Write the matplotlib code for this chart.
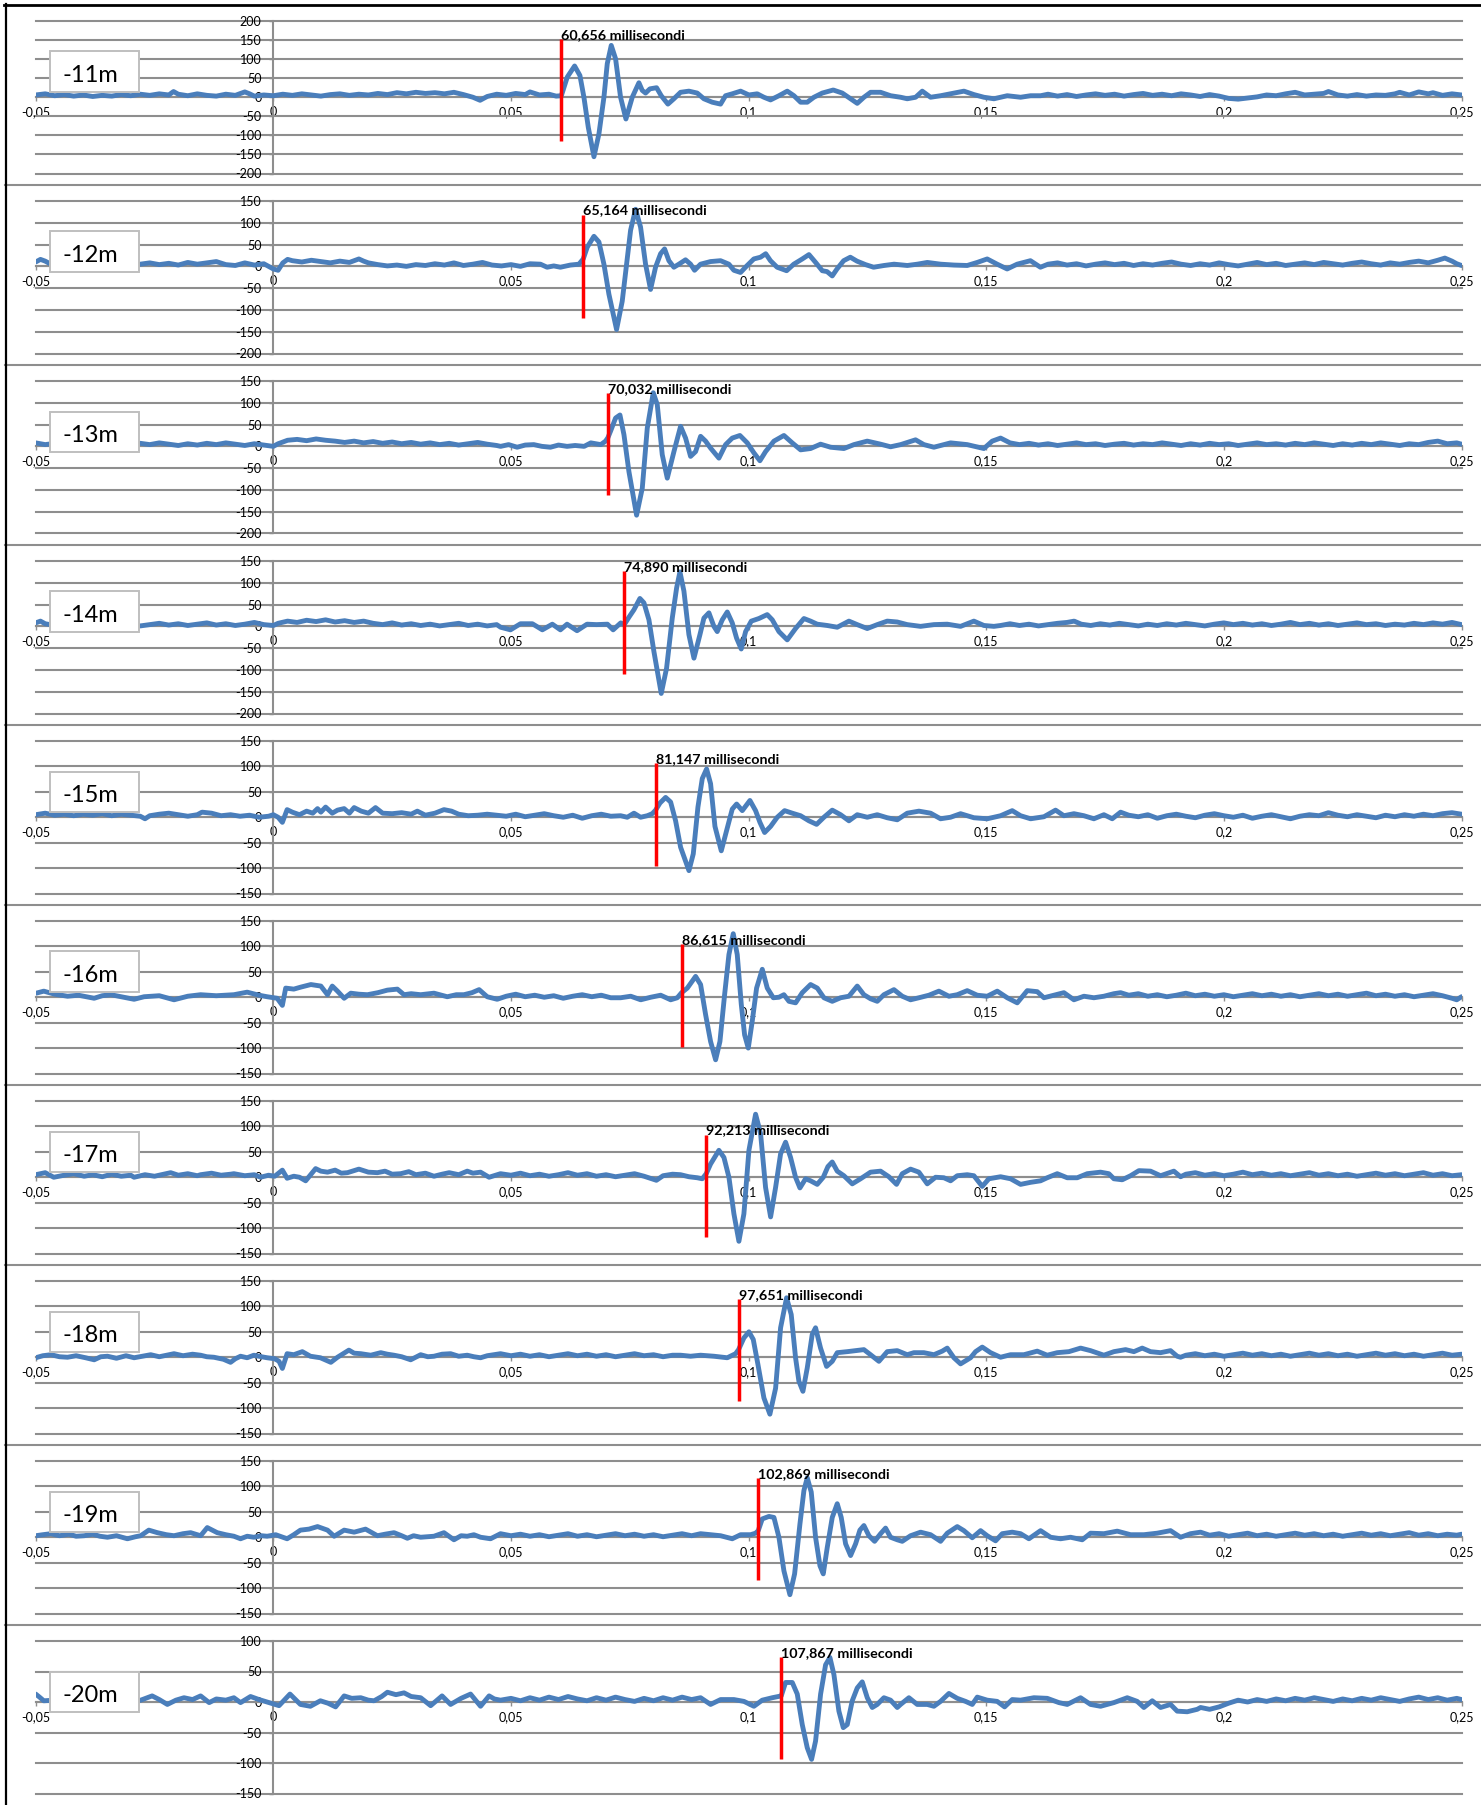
import numpy as np
import matplotlib
matplotlib.use("Agg")
import matplotlib.pyplot as plt
from matplotlib.patches import Rectangle
from matplotlib.lines import Line2D

plt.rcParams['font.family'] = ['Lato', 'DejaVu Sans']

# ---------------- data ----------------
depth_labels = ["-11m", "-12m", "-13m", "-14m", "-15m", "-16m", "-17m", "-18m", "-19m", "-20m"]
arrival_labels = ["60,656 millisecondi", "65,164 millisecondi", "70,032 millisecondi",
                  "74,890 millisecondi", "81,147 millisecondi", "86,615 millisecondi",
                  "92,213 millisecondi", "97,651 millisecondi", "102,869 millisecondi",
                  "107,867 millisecondi"]
y_ranges = [(-200, 200), (-200, 150), (-200, 150), (-200, 150), (-150, 150),
            (-150, 150), (-150, 150), (-150, 150), (-150, 150), (-150, 100)]
# red marker position (ms) and vertical extent
red_t = [60.59, 65.22, 70.40, 73.84, 80.43, 85.90, 91.10, 97.89, 102.04, 106.87]
red_top = [153, 119, 123, 127, 107, 104, 84, 114, 117, 74]
red_bot = [-116, -118, -112, -109, -95, -97, -117, -87, -84, -94]

x_ticks = [-0.05, 0, 0.05, 0.1, 0.15, 0.2, 0.25]
x_tick_labels = ["-0,05", "0", "0,05", "0,1", "0,15", "0,2", "0,25"]

# traces: (time in ms, amplitude)
trace_11m = [
    (-50, 6), (-48, 9), (-46, 4), (-44, 7), (-42, 3), (-40, 6), (-38, 2), (-36, 5), (-34, 3), (-32, 7),
    (-30, 4), (-28, 8), (-26, 5), (-24, 9), (-22, 6), (-21, 15), (-20, 8), (-18, 4), (-16, 9), (-14, 5),
    (-12, 3), (-10, 8), (-8, 5), (-6, 14), (-5, 9), (-4, 3), (-2, 6), (0, 4), (2, 8), (4, 5), (6, 9),
    (8, 6), (10, 3), (12, 7), (14, 9), (16, 5), (18, 8), (20, 6), (22, 10), (24, 7), (26, 12), (28, 9),
    (30, 13), (32, 10), (34, 12), (36, 9), (38, 13), (40, 7), (42, 0), (43.5, -8), (45, 2), (47, 8),
    (49, 5), (51, 10), (53, 7), (54, 14), (56, 6), (58, 8), (59.5, 3),
    (60.6, 4), (61.85, 53), (63.39, 82), (64.51, 57), (65.35, 0), (66.27, -79), (67.46, -156),
    (68.51, -96), (69.56, 0), (70.26, 88), (71.10, 136), (72.01, 101), (73.06, 0), (74.19, -57),
    (75.52, 0), (76.92, 38), (77.62, 18), (78.32, 11), (79.23, 22), (80.64, 25), (81.62, 4),
    (83.02, -18), (84.28, -4), (85.68, 13), (87.44, 16), (89.19, 11), (90.59, -4), (92.35, -13),
    (94.10, -18), (95.15, 4), (96.55, 9), (98.32, 16), (100.07, 6), (101.82, 9), (103.22, 0),
    (104.62, -7), (106.38, 4), (108.13, 16), (109.54, 4), (110.94, -13), (112.34, -13), (113.74, 0),
    (115.50, 11), (117.81, 19), (119.71, 11), (121.46, -4), (122.86, -16), (124.27, 0), (125.67, 13),
    (127.77, 13), (129.88, 4), (131.98, 0), (133.38, -4), (135.14, 0), (136.54, 16), (138.29, 0),
    (140.40, 4), (143.20, 11), (145.31, 16), (147.41, 7), (149.51, 0), (151.62, -4), (154.42, 4),
    (157.23, 0), (159.33, 4), (161.44, 4),
    (163, 8), (165, 3), (167, 7), (169, 2), (171, 6), (173, 9), (175, 5), (177, 8), (179, 3), (181, 7),
    (183, 10), (185, 5), (187, 8), (189, 4), (191, 9), (193, 6), (195, 2), (197, 7), (199, 3), (201, -3),
    (203, -5), (205, -2), (207, 1), (209, 6), (211, 4), (213, 9), (215, 13), (217, 6), (219, 8),
    (221, 10), (222, 15), (224, 6), (226, 3), (228, 7), (230, 3), (232, 6), (234, 5), (236, 9),
    (237, 13), (239, 6), (241, 14), (243, 9), (244, 12), (246, 5), (248, 9), (250, 6)]

trace_12m = [
    (-50, 10), (-49, 16), (-48, 12), (-47, 6), (-45, 3), (-43, 7), (-41, 4), (-39, 8), (-37, 5), (-35, 9),
    (-33, 4), (-31, 7), (-29, 3), (-28, 5), (-26, 8), (-24, 4), (-22, 7), (-20, 3), (-18, 9), (-16, 5),
    (-14, 8), (-12, 11), (-10, 4), (-8, 2), (-6, 8), (-4, 3), (-2, 6), (0, -6), (1, -9), (2, 8), (3, 16),
    (4, 13), (6, 10), (8, 14), (10, 11), (12, 8), (14, 12), (16, 9), (18, 17), (19, 12), (20, 8), (22, 4),
    (24, 1), (26, 3), (28, 0), (30, 4), (32, 2), (34, 6), (36, 3), (38, 8), (40, 2), (42, 5), (44, 9),
    (46, 3), (48, 1), (50, 4), (52, 0), (54, 6),
    (56.2, 5), (57.6, -2), (59.0, 1), (60.4, -2), (62.5, 3), (64.3, 5),
    (65.21, 17), (66.05, 44), (67.46, 69), (68.51, 56), (69.56, 5), (70.61, -64), (72.22, -145),
    (73.41, -80), (74.33, 5), (75.17, 83), (76.22, 131), (77.27, 90), (78.32, 5), (79.37, -53),
    (80.42, -2), (81.48, 29), (82.32, 40), (83.23, 13), (84.28, -2), (85.33, 5), (86.73, 15),
    (87.79, 5), (88.63, -9), (89.89, 5), (91.99, 11), (94.10, 13), (95.85, 5), (96.90, -9),
    (98.30, -14), (99.70, 2), (101.1, 17), (102.5, 21), (103.6, 29), (104.6, 13), (106.0, -2),
    (108.0, -10), (109.5, 5), (111.3, 17), (112.7, 27), (114.1, 9), (115.5, -10), (116.5, -12),
    (117.6, -22), (118.6, -6), (120.0, 13), (121.4, 21), (122.8, 12), (124.6, 4), (126.3, -2),
    (128.5, 2), (130.6, 5), (133.4, 2), (135.5, 5), (137.6, 9), (140.4, 5), (143.2, 3), (146.0, 2),
    (148.1, 9), (150.2, 17), (152.3, 5), (154.4, -6), (156.5, 5), (159.3, 13), (161.4, -2),
    (163, 5), (165, 8), (167, 3), (169, 6), (171, 1), (173, 5), (175, 8), (177, 4), (179, 7), (181, 2),
    (183, 6), (185, 3), (187, 7), (189, 10), (191, 5), (193, 2), (195, 6), (197, 3), (199, 8), (201, 4),
    (203, 1), (205, 5), (207, 9), (209, 4), (211, 7), (213, 2), (215, 5), (217, 8), (219, 4), (221, 9),
    (223, 6), (225, 3), (227, 7), (229, 10), (231, 6), (233, 3), (235, 8), (237, 5), (239, 9), (241, 12),
    (243, 8), (245, 14), (246.5, 19), (248, 12), (249, 6), (250, 2)]

trace_13m = [
    (-50, 8), (-48, 4), (-46, 7), (-44, 3), (-42, 6), (-40, 2), (-38, 5), (-36, 8), (-34, 4), (-32, 6),
    (-30, 3), (-28, 7), (-26, 4), (-24, 8), (-22, 5), (-20, 2), (-18, 6), (-16, 3), (-14, 7), (-12, 4),
    (-10, 8), (-8, 5), (-6, 2), (-4, 6), (-2, 3), (0, 0), (1, 6), (3, 14), (5, 16), (7, 13), (9, 17),
    (11, 14), (13, 12), (15, 9), (17, 12), (19, 8), (21, 11), (23, 7), (25, 10), (27, 6), (29, 9),
    (31, 5), (33, 8), (35, 4), (37, 7), (39, 3), (41, 6), (43, 9), (45, 5), (47, 2),
    (47.82, 0), (49.5, 4), (51.3, -2), (53, 3), (54.8, 4), (56.5, 0), (58.3, -2), (60, 3), (61.8, 0),
    (63.5, 2), (65.4, 0), (66.8, 8), (68.9, 4), (69.9, 12),
    (70.40, 20), (70.96, 35), (72.01, 65), (72.93, 72), (73.77, 27), (74.82, -58), (76.43, -158),
    (77.63, -96), (78.68, 42), (79.94, 123), (80.78, 96), (81.83, -19), (82.89, -73), (84.29, -12),
    (85.69, 46), (86.74, 19), (87.79, -23), (88.85, -12), (89.90, 23), (90.95, 12), (92.00, -4),
    (93.75, -27), (95.16, 4), (96.56, 19), (98.17, 25), (99.72, 8), (101.12, -15), (102.38, -33),
    (103.57, -12), (105.33, 12), (107.43, 25), (109.18, 8), (110.94, -8), (113.04, -5), (115.14, 5),
    (117.25, -2), (120.05, -5), (122.16, 4), (124.96, 12), (127.77, 5), (129.87, -1), (131.98, 4),
    (135.13, 15), (136.89, 4), (138.99, -2), (142.50, 8), (146.00, 4), (149.51, -5), (151.26, 12),
    (153.02, 19),
    (155, 8), (157, 4), (159, 7), (161, 3), (163, 6), (165, 2), (167, 5), (169, 8), (171, 4), (173, 6),
    (175, 2), (177, 5), (179, 7), (181, 3), (183, 6), (185, 4), (187, 8), (189, 5), (191, 2), (193, 6),
    (195, 3), (197, 7), (199, 4), (201, 6), (203, 2), (205, 5), (207, 8), (209, 4), (211, 6), (213, 3),
    (215, 7), (217, 4), (219, 8), (221, 5), (223, 2), (225, 6), (227, 3), (229, 7), (231, 4), (233, 8),
    (235, 5), (237, 2), (239, 6), (241, 4), (243, 9), (245, 12), (247, 6), (249, 8), (250, 5)]

trace_14m = [
    (-50, 8), (-49, 12), (-48, 6), (-46, 2), (-44, 5), (-42, 1), (-40, 4), (-38, 7), (-36, 3), (-34, 6),
    (-32, 2), (-30, 5), (-28, 1), (-26, 4), (-24, 7), (-22, 3), (-20, 6), (-18, 2), (-16, 5), (-14, 8),
    (-12, 3), (-10, 6), (-8, 2), (-6, 5), (-4, 9), (-2, 4), (0, 2), (1, 7), (3, 12), (5, 9), (7, 14),
    (9, 11), (11, 15), (13, 10), (15, 13), (17, 9), (19, 12), (21, 7), (23, 4), (25, 8), (27, 3),
    (29, 6), (31, 2), (33, 5), (35, 1), (37, 4), (39, 7), (41, 2), (43, 5), (45, 1), (47, 4),
    (47.82, -2), (49.9, -8), (52, 6), (54.5, 6), (56.6, -8), (58.7, 5), (60.4, -8), (61.8, 5),
    (63.9, -10), (66, 5), (68, 4), (70.3, 5), (71.5, -8), (73.1, 8),
    (73.84, 4), (74.82, 21), (75.87, 38), (77.13, 64), (77.98, 54), (79.03, 15), (80.08, -58),
    (81.62, -154), (82.74, -96), (83.94, 19), (84.85, 88), (85.55, 125), (86.39, 81), (87.44, -19),
    (88.50, -73), (89.76, -19), (90.60, 19), (91.65, 31), (92.70, 0), (93.40, -12), (94.46, 15),
    (95.51, 33), (96.56, 8), (97.47, -27), (98.45, -52), (99.37, -12), (100.56, 12), (102.17, 18),
    (103.92, 27), (104.98, 15), (106.38, -12), (108.13, -31), (109.88, -5), (111.64, 18), (113.04, 12),
    (114.44, 5), (116.55, 2), (118.65, -2), (121.11, 12), (122.86, 4), (124.96, -5), (127.07, 4),
    (129.17, 12), (131.27, 10), (133.38, 4), (136.18, 0), (138.99, 4), (141.79, 5), (144.60, 0),
    (147.40, 12), (149.51, 2), (151.61, 0), (153.02, 2),
    (155, 6), (157, 2), (159, 5), (161, 1), (163, 4), (165, 7), (167, 9), (168.5, 12), (170, 5), (172, 2),
    (174, 6), (176, 3), (178, 7), (180, 4), (182, 1), (184, 5), (186, 2), (188, 6), (190, 3), (192, 7),
    (194, 4), (196, 1), (198, 5), (200, 8), (202, 4), (204, 7), (206, 3), (208, 6), (210, 2), (212, 5),
    (214, 9), (216, 4), (218, 7), (220, 3), (222, 6), (224, 2), (226, 5), (228, 8), (230, 4), (232, 6),
    (234, 2), (236, 5), (238, 3), (240, 7), (242, 4), (244, 8), (246, 5), (248, 9), (250, 4)]

trace_15m = [
    (-50, 5), (-48, 8), (-46, 4), (-44, 6), (-42, 3), (-40, 6), (-38, 4), (-36, 7), (-34, 3), (-32, 6),
    (-30, 4), (-28, 2), (-27, -3), (-26, 3), (-24, 6), (-22, 8), (-20, 5), (-18, 2), (-16, 5), (-15, 10),
    (-13, 8), (-11, 3), (-9, 5), (-7, 2), (-5, 4), (-3, 0), (-1, 2), (0, 5), (1, 0), (1.9, -10),
    (2.9, 15), (4, 10), (5.5, 5), (7, 12), (8.3, 8), (9.3, 17), (10, 10), (11, 20), (12.4, 8), (13.5, 14),
    (14.9, 17), (16, 8), (17, 19), (18.5, 12), (20, 8), (21.5, 19), (23, 8), (25, 7), (27, 9), (29, 6),
    (30.3, 12), (32, 4), (34, 8), (35.9, 15), (37.5, 12), (39, 6), (41, 3), (43, 4), (45, 6), (47, 4),
    (49, 2), (51, 6), (53, 1), (55, 4), (57, 7), (59, 3), (61, 0), (63, 4), (65, -2), (67, 3), (69, 6),
    (71, 2),
    (73.07, 3), (74.47, 0), (75.88, 8), (77.28, 0), (78.68, 3), (79.73, 7), (80.43, 14), (81.35, 28),
    (82.54, 39), (83.59, 30), (84.64, -7), (85.69, -59), (87.45, -105), (88.36, -72), (89.34, 20),
    (90.25, 76), (91.16, 95), (92.00, 66), (92.92, -18), (94.25, -66), (95.37, -26), (96.56, 16),
    (97.48, 26), (98.67, 13), (100.28, 33), (101.47, 13), (102.38, -10), (103.37, -30), (104.63, -18),
    (106.03, 0), (107.57, 13), (109.19, 8), (110.94, 3), (112.69, -7), (114.31, -14), (115.85, 0),
    (117.60, 14), (119.36, 5), (121.11, -7), (122.86, 5), (124.97, 0), (127.07, 5), (129.17, -1),
    (131.28, -5), (133.38, 8), (135.84, 12), (138.29, 8), (140.39, -3), (142.49, 0), (144.60, 7),
    (147.41, -1), (150.21, -3), (153.02, 3), (155.47, 13), (157.23, 3), (159.33, -3), (162.14, 1),
    (164.59, 14), (166.34, 3), (168.45, 7), (170.55, 3), (172.65, -3), (174.76, 5), (176.51, -3),
    (178.27, 10),
    (180, 4), (182, 1), (184, 5), (186, -2), (188, 3), (190, 6), (192, 2), (194, -1), (196, 4), (198, 7),
    (200, 3), (202, 0), (204, 4), (206, -2), (208, 2), (210, 5), (212, 1), (214, -3), (216, 2), (218, 5),
    (220, 3), (222, 9), (224, 4), (226, 1), (228, 5), (230, 2), (232, -1), (234, 4), (236, 1), (238, 5),
    (240, 2), (242, 6), (244, 3), (246, 7), (248, 9), (250, 6)]

trace_16m = [
    (-49.9, 8), (-48.3, 12), (-46, 6), (-43.3, 2), (-41, 4), (-37.7, -2), (-36, 3), (-34.2, 5), (-32, 1),
    (-29.3, -4), (-27.2, 1), (-24, 3), (-20.9, -5), (-18, 2), (-15.3, 5), (-12, 3), (-8.3, 5), (-5.5, 10),
    (-3, 4), (-1.3, 1), (0.8, -2), (1.9, -16), (2.6, 18), (4.3, 16), (5.8, 20), (7.9, 25), (10, 22),
    (11.4, 5), (12.4, 22), (13.5, 12), (14.9, -2), (16.3, 8), (18, 6), (19.8, 5), (22, 9), (24, 14),
    (26.1, 16), (27.5, 5), (29, 7), (31, 5), (33.8, 8), (36.6, 1), (38.5, 5), (40.1, 5), (41.8, 9),
    (43.3, 15), (45, 1), (47.1, -4),
    (49, 2), (51, 6), (53, 1), (55, 4), (57, 0), (59, 3), (61, -2), (63, 2), (65, 5), (67, 1), (69, 4),
    (71, -1),
    (73.07, -1), (75.2, 2), (77.3, -5), (79.4, 0), (81.5, 4), (83.6, -5), (85.0, -1),
    (85.90, 9), (87.10, 18), (88.85, 41), (89.90, 25), (90.95, -34), (92.00, -87), (93.06, -123),
    (93.97, -87), (94.95, 5), (95.86, 84), (96.77, 125), (97.61, 84), (98.46, -14), (99.16, -74),
    (99.93, -100), (100.77, -47), (101.68, 18), (102.88, 55), (103.93, 18), (105.19, -1), (106.38, 0),
    (107.43, 5), (108.49, -8), (109.89, -11), (111.29, 9), (113.04, 25), (114.45, 18), (115.85, -1),
    (117.60, -8), (119.36, -1), (121.11, 2), (122.86, 22), (124.26, 5), (125.67, -3), (127.07, -8),
    (128.47, 5), (130.58, 15), (132.33, 2), (134.08, -5), (135.84, -1), (137.94, 4), (140.04, 12),
    (142.15, 2), (143.90, 5), (146.00, 13), (148.11, 4), (150.21, 2), (152.32, 12), (154.42, -1),
    (156.52, -11), (158.63, 13), (160.73, 11), (162.14, -1), (164.24, 4), (166.34, 9), (168.45, -5),
    (170.55, 2), (172.65, -1), (174.76, 2), (176.86, 7), (178.27, 9),
    (180, 4), (182, 7), (184, 2), (186, 5), (188, 1), (190, 4), (192, 8), (194, 3), (196, 6), (198, 2),
    (200, 5), (202, 1), (204, 4), (206, 7), (208, 3), (210, 6), (212, 2), (214, 5), (216, 1), (218, 4),
    (220, 7), (222, 3), (224, 6), (226, 2), (228, 5), (230, 8), (232, 3), (234, 6), (236, 2), (238, 5),
    (240, 1), (242, 4), (244, 7), (246, 3), (248, -2), (249, -5), (250, 1)]

trace_17m = [
    (-50, 5), (-48, 9), (-46.2, 0), (-44, 4), (-42, 7), (-39.8, 2), (-38, 5), (-36, 1), (-34, 6), (-32, 2),
    (-30, 4), (-29.3, 0), (-27, 5), (-25, 2), (-23, 6), (-21.6, 9), (-20, 4), (-18, 7), (-16, 3),
    (-15.3, 5), (-13, 8), (-11, 4), (-9, 6), (-8.3, 7), (-6, 3), (-4, 5), (-2.7, 0), (-1, 4), (0.3, 2),
    (1.9, 14), (2.9, -2), (4.3, 2), (5.5, 0), (6.8, -7), (8.9, 17), (10, 12), (11.4, 10), (13, 14),
    (14.3, 8), (15.6, 9), (18, 16), (20, 10), (21.9, 9), (23.5, 12), (25, 6), (26.8, 7), (28.5, 11),
    (30, 5), (32, 8), (33.8, 2), (35.5, 6), (37, 9), (39, 5), (40.8, 12), (42, 8), (43.6, 10), (45.4, 0),
    (47.8, 7),
    (50, 4), (52, 8), (54, 3), (56, 6), (58, 2), (60, 5), (62, 9), (64, 4), (66, 7), (68, 2), (70, 5),
    (72, 1), (74, 4), (76, 7), (78, 2), (80, -4), (80.6, -6), (82, 3), (84, 6),
    (85.69, 5), (87.44, 1), (89.20, -1), (90.25, -3), (91.09, 7), (92.00, 26), (93.75, 53), (94.81, 39),
    (95.86, 0), (96.91, -72), (97.96, -126), (99.01, -72), (100.07, 53), (101.47, 124), (102.52, 86),
    (103.57, -20), (104.63, -78), (105.68, -20), (106.73, 46), (107.78, 69), (108.83, 39), (109.88, 0),
    (110.80, -21), (111.99, -3), (113.04, -7), (114.44, -14), (115.71, 0), (116.69, 21), (117.60, 30),
    (118.65, 12), (120.05, 3), (121.81, -13), (123.56, -3), (125.66, 10), (127.77, 12), (129.52, 1),
    (131.13, -14), (132.33, 7), (134.08, 16), (135.83, 10), (137.59, -13), (139.34, 0), (141.09, -1),
    (142.50, -7), (143.90, 3), (146.00, 5), (147.40, 3), (149.16, -18), (150.56, -3), (153.02, 1),
    (155.12, -3), (157.22, -14), (159.33, -10), (161.43, -7), (162.83, -1), (164.94, 7), (167.04, -1),
    (169.14, -1), (171.25, 7), (174.05, 10), (175.80, 7), (176.86, -3), (178.61, -5), (180.37, 3),
    (182.12, 13), (184.57, 12), (186.68, 3), (189.48, 12), (190.89, 1),
    (192, 6), (194, 9), (196, 4), (198, 7), (200, 3), (202, 6), (204, 10), (206, 5), (208, 8), (210, 4),
    (212, 7), (214, 3), (216, 6), (218, 9), (220, 4), (222, 7), (224, 3), (226, 6), (228, 2), (230, 5),
    (232, 8), (234, 4), (236, 7), (238, 3), (240, 6), (242, 9), (244, 4), (246, 7), (248, 3), (250, 5)]

trace_18m = [
    (-50, -1), (-48.5, 3), (-46.8, 5), (-45, 1), (-43.3, 0), (-41.5, 3), (-39.5, -1), (-37.7, -5),
    (-36.3, 1), (-34.9, 2), (-33, -2), (-31, 3), (-29.3, -1), (-27.5, 2), (-25.8, 5), (-24, 1),
    (-22.5, 4), (-20.9, 7), (-19, 3), (-17, 6), (-15.3, 4), (-14, 1), (-12.5, 0), (-10.5, -4),
    (-9.0, -10), (-8, -3), (-6.9, 2), (-5.5, -1), (-4.1, 4), (-2.5, 1), (-1.3, -1), (0.3, -3),
    (1.2, -8), (1.9, -22), (2.9, 7), (4.3, 5), (6.1, 11), (7.8, 2), (9.9, -1), (12.1, -10), (13.5, 0),
    (15.9, 14), (17, 8), (18.4, 7), (20.5, 4), (22.6, 9), (24, 6), (25.4, 4), (27, 1), (28.9, -5),
    (31.0, 5), (32.5, 1), (33.8, 2), (35.5, 6), (37.3, 7), (39, 2), (40.8, 4), (42.2, 1), (43.6, -1),
    (45, 3), (46.4, 5), (47.8, 7),
    (50, 3), (52, 6), (54, 2), (56, 5), (58, 1), (60, 4), (62, 7), (64, 3), (66, 6), (68, 2), (70, 5),
    (72, 1), (74, 4), (76, 7), (78, 3), (80, 5), (82, 1), (84, 4),
    (85.69, 4), (87.79, 2), (89.90, 4), (92.70, 2), (95.51, -1), (97.26, 7), (97.89, 15), (99.01, 38),
    (100.07, 50), (100.98, 35), (101.96, -14), (103.22, -80), (104.48, -112), (105.68, -61),
    (106.73, 58), (107.99, 117), (108.97, 84), (109.88, -1), (110.58, -47), (111.43, -67),
    (112.34, -21), (113.39, 45), (114.09, 58), (115.14, 18), (116.41, -18), (117.60, -8), (118.65, 9),
    (120.76, 11), (122.51, 13), (124.26, 15), (125.66, 5), (127.42, -8), (129.17, 11), (131.27, 13),
    (133.38, 5), (134.78, 9), (136.88, 9), (138.99, 5), (140.74, 12), (141.79, 18), (143.20, -1),
    (144.60, -13), (146.70, -1), (147.75, 11), (149.16, 20), (150.91, 9), (153.01, 0), (155.12, 5),
    (157.92, 5), (160.73, 12), (162.83, 4), (164.94, 9), (167.39, 11), (169.85, 18), (171.95, 13),
    (174.75, 4), (176.86, 11), (179.32, 15), (181.07, 11), (182.82, 18), (184.57, 11), (186.68, 9),
    (188.78, 13), (190.18, 2), (190.89, 0),
    (192, 4), (194, 7), (196, 3), (198, 6), (200, 2), (202, 5), (204, 8), (206, 4), (208, 7), (210, 3),
    (212, 6), (214, 2), (216, 5), (218, 8), (220, 4), (222, 7), (224, 3), (226, 6), (228, 2), (230, 5),
    (232, 8), (234, 4), (236, 7), (238, 3), (240, 6), (242, 2), (244, 5), (246, 8), (248, 4), (250, 6)]

trace_19m = [
    (-50, 3), (-48.5, 5), (-46.8, 7), (-45, 3), (-43, 6), (-41.5, 2), (-39.8, 3), (-38, 6), (-36.5, 2),
    (-34.9, 0), (-33, 3), (-30.7, -3), (-29, 1), (-27.9, 3), (-26.2, 14), (-24.4, 9), (-22.5, 5),
    (-20.9, 3), (-19, 7), (-17.4, 9), (-15.3, 3), (-13.9, 19), (-11.8, 9), (-10, 5), (-8.3, 2),
    (-6.9, -3), (-5.5, 2), (-4.1, 0), (-2.5, 3), (-1.3, 2), (0.5, 5), (2.9, -3), (4.3, 5), (5.7, 14),
    (7.5, 16), (9.3, 21), (11.4, 14), (12.8, 2), (14.9, 14), (17.0, 10), (19.4, 16), (21.9, 3),
    (23.5, 6), (25.4, 9), (27, 3), (28.2, -2), (29.5, 3), (31.0, 0), (33.8, 2), (35.9, 9), (38.0, -5),
    (39.5, 3), (40.8, 2), (42.2, 5), (43.6, 0), (45.7, -3), (47.8, 7),
    (50, 3), (52, 6), (54, 2), (56, 5), (58, 1), (60, 4), (62, 7), (64, 2), (66, 5), (68, 1), (70, 4),
    (72, 7), (74, 3), (76, 6), (78, 2), (80, 5), (82, 1), (84, 4), (86, 7), (88, 3),
    (89.90, 7), (92.00, 5), (94.11, 3), (96.56, -3), (98.32, 5), (100.42, 5), (101.47, 8), (102.03, 13),
    (102.87, 36), (104.28, 41), (105.33, 39), (106.38, 0), (107.43, -66), (108.69, -113),
    (109.68, -72), (110.80, 26), (111.64, 92), (112.34, 117), (113.18, 89), (114.09, 0),
    (115.01, -56), (115.71, -72), (116.55, -20), (117.60, 39), (118.65, 66), (119.49, 39),
    (120.41, -13), (121.46, -36), (122.51, -13), (123.42, 14), (124.26, 23), (125.32, 3), (126.51, -8),
    (127.77, 7), (128.82, 18), (129.87, 0), (131.28, -5), (132.33, -8), (134.08, 3), (136.19, 10),
    (138.29, 5), (140.39, -8), (141.80, 8), (143.90, 21), (145.30, 13), (147.06, -1), (148.81, 13),
    (150.21, 3), (151.97, -7), (153.37, 7), (155.47, 10), (157.22, 7), (158.98, -3), (161.43, 13),
    (163.54, 0), (165.64, -3), (167.74, 0), (170.20, -5), (171.95, 8), (174.76, 7), (177.56, 12),
    (180.37, 5), (183.17, 5), (185.98, 8), (188.78, 13), (190.89, 0), (192.99, 7), (195.10, 10),
    (197, 4), (199, 7), (201, 2), (203, 5), (205, 8), (207, 3), (209, 6), (211, 2), (213, 5), (215, 8),
    (217, 4), (219, 7), (221, 3), (223, 6), (225, 2), (227, 5), (229, 8), (231, 4), (233, 7), (235, 3),
    (237, 6), (239, 9), (241, 4), (243, 7), (245, 3), (247, 6), (249, 4), (250, 6)]

trace_20m = [
    (-50, 13), (-49.2, 8), (-48.3, 2), (-46, 3), (-43, 6), (-40, 2), (-37, 5), (-34, 1), (-31, 4),
    (-29.5, 1), (-27.9, 3), (-25.5, 10), (-24, 4), (-22.3, -4), (-20.5, 3), (-18.8, 7), (-17, 4),
    (-15.3, 10), (-13.5, -1), (-12, 5), (-10, 3), (-8.3, 7), (-6.9, -1), (-4.8, 9), (-3, 4), (-1.3, 0),
    (1.2, -6), (3.5, 13), (5.7, -4), (7.8, -7), (9.9, 2), (11.5, -2), (13.1, -8), (14.9, 10),
    (16.5, 6), (18.4, 7), (20, 3), (21.2, 2), (22.8, 9), (24.0, 16), (25.8, 12), (27.5, 15), (29, 9),
    (31.0, 7), (33.1, -6), (35.5, 10), (37.3, -4), (39.5, 6), (41.5, 13), (43.6, -7), (45.4, 10),
    (46.5, 5), (47.8, 3),
    (50, 6), (52, 2), (54, 7), (56, 3), (58, 8), (60, 4), (62, 9), (64, 5), (66, 2), (68, 7), (70, 3),
    (72, 8), (74, 4), (76, 1), (78, 6), (80, 2), (82, 7), (84, 3), (86, 8), (88, 4),
    (89.90, 7), (92.00, -4), (94.11, 4), (96.91, 4), (99.02, 1), (101.12, -7), (102.87, 3),
    (104.98, 7), (106.87, 10), (107.78, 32), (109.19, 32), (110.24, 13), (111.29, -37), (112.34, -75),
    (113.25, -94), (114.09, -64), (115.15, 13), (116.20, 61), (117.11, 73), (117.95, 45), (119.00, -15),
    (119.92, -42), (120.76, -37), (121.81, 2), (122.86, 23), (123.91, 33), (124.97, 7), (126.02, -9),
    (127.07, -4), (128.47, 7), (129.87, 3), (131.28, -9), (131.98, -4), (133.73, 7), (135.48, -4),
    (137.59, -4), (138.99, -7), (140.39, 1), (142.15, 14), (143.90, 6), (145.65, 1), (147.06, -4),
    (148.11, 8), (150.21, 3), (152.31, 1), (153.86, -8), (155.47, 4), (157.22, 3), (160.03, 7),
    (162.84, 6), (165.29, -1), (167.04, -4), (169.85, 7), (171.95, -4), (174.06, -7), (176.86, -1),
    (179.67, 7), (181.77, 1), (183.17, -9), (184.93, 2), (186.68, -9), (188.78, -4), (190.18, -15),
    (192.29, -16), (194.39, -12), (195.10, -9),
    (197, -12), (199, -8), (201, -2), (203, 3), (205, 0), (207, 4), (209, 1), (211, 5), (213, 2), (215, 6),
    (217, 3), (219, 7), (221, 4), (223, 1), (225, 5), (227, 2), (229, 6), (231, 3), (233, 7), (235, 4),
    (237, 1), (239, 5), (241, 8), (243, 4), (245, 7), (247, 3), (249, 6), (250, 4)]

traces = [trace_11m, trace_12m, trace_13m, trace_14m, trace_15m,
          trace_16m, trace_17m, trace_18m, trace_19m, trace_20m]

# ---------------- styling ----------------
W, H = 1481, 1805
GRID = '#8e8e8e'
BLUE = '#4a7ebb'

fig = plt.figure(figsize=(W / 100, H / 100), dpi=100)
fig.patch.set_facecolor('white')

x_left_px, x_right_px = 35.7, 1461.5
panel_h = 180.0
top0 = 5.0
ax_off, ax_h = 16.0, 152.5


def fx(px):
    return px / W


def fy(py):
    return 1 - py / H


# panel separator lines and outer border
for k in range(1, 10):
    yy = fy(top0 + panel_h * k)
    fig.add_artist(Line2D([fx(5), 1], [yy, yy], color=GRID, lw=1.5, transform=fig.transFigure))
fig.add_artist(Line2D([fx(4), 1], [fy(5), fy(5)], color='black', lw=2.0, transform=fig.transFigure))
fig.add_artist(Line2D([fx(5.5), fx(5.5)], [fy(4), 0], color='black', lw=1.6, transform=fig.transFigure))

for k in range(10):
    ptop = top0 + panel_h * k + ax_off
    ax = fig.add_axes([fx(x_left_px), fy(ptop + ax_h), fx(x_right_px - x_left_px), ax_h / H])
    ax.patch.set_visible(False)
    lo, hi = y_ranges[k]
    ax.set_xlim(-0.05, 0.25)
    ax.set_ylim(lo, hi)

    yt = list(range(lo, hi + 1, 50))
    ax.set_yticks(yt)
    ax.set_yticklabels([str(v) for v in yt])
    ax.set_xticks(x_ticks)
    ax.set_xticklabels(x_tick_labels)

    for s in ['top', 'right']:
        ax.spines[s].set_visible(False)
    ax.spines['left'].set_position(('data', 0))
    ax.spines['bottom'].set_position(('data', 0))
    for s in ['left', 'bottom']:
        ax.spines[s].set_color(GRID)
        ax.spines[s].set_linewidth(1.5)
        ax.spines[s].set_zorder(1.5)

    ax.grid(axis='y', color=GRID, lw=1.5)
    ax.set_axisbelow(True)
    for gl in ax.get_ygridlines():
        gl.set_clip_on(False)

    ax.tick_params(axis='y', colors=GRID, labelcolor='black', length=3, width=1,
                   labelsize=9, pad=5.5, direction='out')
    ax.tick_params(axis='x', colors=GRID, labelcolor='black', length=3, width=1,
                   labelsize=9, pad=3.5, direction='out')

    tr = np.array(traces[k], dtype=float)
    ax.plot(tr[:, 0] / 1000.0, tr[:, 1], color=BLUE, lw=3.5,
            solid_joinstyle='round', solid_capstyle='round', zorder=3)

    rt = red_t[k] / 1000.0
    ax.plot([rt, rt], [red_bot[k], red_top[k]], color='#ff0000', lw=2.5,
            solid_capstyle='butt', zorder=4)
    ax.text(rt, red_top[k], arrival_labels[k], fontsize=10.3, fontweight='bold',
            ha='left', va='baseline', zorder=6, color='black')

    ax.add_patch(Rectangle((0.0100, 0.535), 0.0625, 0.265, transform=ax.transAxes,
                           facecolor='white', edgecolor='#bfbfbf', lw=1.4, zorder=5,
                           clip_on=False))
    ax.text(0.0185, 0.598, depth_labels[k], transform=ax.transAxes, fontsize=17,
            ha='left', va='baseline', zorder=6, color='black')

fig.savefig('out.png', dpi=100, facecolor='white')
